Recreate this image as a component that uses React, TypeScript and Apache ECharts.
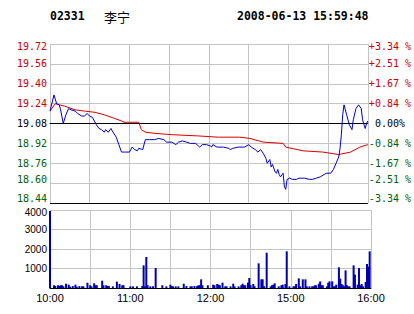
import React, { useEffect, useRef } from "react";
import * as echarts from "echarts";

const stockCode = "02331";
const stockName = "李宁";
const stamp = "2008-06-13 15:59:48";
const prevClose = 19.08;

const priceMinutes = [0, 3, 5, 7, 8, 10, 12, 14, 16, 19, 21, 24, 26, 28, 30, 32, 35, 37, 39, 41, 42, 44, 46, 47, 50, 52, 54, 57, 60, 62, 64, 66, 67, 70, 72, 75, 79, 82, 86, 88, 92, 95, 97, 100, 103, 106, 110, 112, 113, 115, 118, 121, 122, 123, 126, 131, 135, 136, 138, 142, 145, 147, 150, 152, 155, 157, 159, 161, 163, 164, 166, 167, 168, 170, 171, 172, 173, 174, 176, 177, 178, 179, 181, 183, 186, 188, 192, 196, 198, 201, 204, 207, 209, 212, 214, 216, 218, 219, 220, 221, 222, 224, 226, 228, 229, 231, 233, 235, 236, 238, 239, 240];
const prices = [19.18, 19.31, 19.24, 19.23, 19.19, 19.08, 19.15, 19.2, 19.19, 19.18, 19.16, 19.14, 19.14, 19.16, 19.14, 19.13, 19.07, 19.04, 19.03, 19.01, 19.03, 19.01, 19.04, 19.02, 18.97, 18.91, 18.85, 18.85, 18.85, 18.89, 18.87, 18.86, 18.88, 18.87, 18.95, 18.95, 18.95, 18.96, 18.95, 18.93, 18.93, 18.91, 18.93, 18.94, 18.93, 18.92, 18.92, 18.9, 18.89, 18.91, 18.91, 18.9, 18.89, 18.91, 18.89, 18.89, 18.88, 18.87, 18.88, 18.89, 18.89, 18.89, 18.91, 18.89, 18.87, 18.85, 18.87, 18.84, 18.8, 18.76, 18.79, 18.73, 18.75, 18.69, 18.68, 18.71, 18.67, 18.65, 18.68, 18.57, 18.55, 18.63, 18.64, 18.63, 18.63, 18.64, 18.64, 18.63, 18.63, 18.64, 18.65, 18.67, 18.68, 18.68, 18.71, 18.76, 18.81, 18.88, 18.99, 19.15, 19.23, 19.15, 19.07, 19.03, 19.11, 19.2, 19.23, 19.2, 19.11, 19.04, 19.08, 19.1];

const avgMinutes = [0, 4, 7, 11, 19, 26, 34, 41, 49, 54, 56, 67, 69, 72, 80, 92, 112, 127, 143, 151, 161, 176, 178, 191, 206, 218, 227, 234, 240];
const avgPrices = [19.18, 19.24, 19.23, 19.22, 19.19, 19.18, 19.17, 19.15, 19.12, 19.1, 19.09, 19.09, 19.03, 19.01, 19.0, 18.99, 18.98, 18.97, 18.97, 18.96, 18.93, 18.92, 18.89, 18.86, 18.85, 18.83, 18.85, 18.89, 18.91];

const volMinutes = [0, 3, 4, 6, 7, 8, 9, 10, 12, 14, 15, 17, 19, 20, 22, 24, 25, 28, 30, 31, 33, 34, 35, 39, 40, 42, 43, 44, 47, 50, 52, 54, 55, 60, 62, 65, 69, 70, 71, 72, 73, 75, 77, 79, 84, 87, 90, 91, 92, 94, 96, 100, 102, 105, 106, 108, 110, 111, 112, 113, 114, 118, 122, 123, 125, 126, 127, 129, 131, 132, 135, 137, 138, 141, 143, 144, 145, 146, 148, 149, 150, 152, 153, 156, 158, 159, 160, 162, 165, 166, 167, 168, 171, 173, 174, 176, 177, 179, 182, 183, 184, 186, 187, 189, 191, 192, 194, 196, 197, 198, 199, 201, 202, 203, 204, 207, 208, 209, 211, 212, 213, 214, 216, 217, 218, 219, 220, 221, 222, 223, 224, 227, 228, 230, 231, 232, 233, 234, 236, 237, 238, 239];
const volValues = [3950, 140, 100, 140, 100, 140, 140, 85, 220, 170, 70, 100, 170, 70, 100, 85, 85, 270, 140, 85, 240, 140, 140, 375, 140, 140, 100, 100, 85, 325, 205, 140, 140, 85, 85, 85, 100, 1160, 85, 1590, 140, 85, 85, 1025, 140, 85, 170, 100, 85, 85, 85, 220, 100, 85, 85, 100, 100, 140, 140, 445, 140, 140, 170, 140, 205, 170, 140, 275, 85, 85, 85, 220, 85, 85, 140, 220, 140, 140, 275, 515, 140, 205, 85, 1265, 445, 445, 85, 1810, 85, 140, 170, 240, 85, 140, 170, 205, 1880, 85, 85, 85, 205, 495, 85, 445, 445, 85, 85, 85, 85, 140, 140, 220, 340, 140, 140, 85, 275, 340, 340, 85, 85, 170, 1060, 480, 205, 140, 85, 905, 140, 85, 85, 1160, 685, 170, 1025, 140, 205, 85, 310, 1230, 1095, 1880];

const priceTickLabels = ["18.44", "18.60", "18.76", "18.92", "19.08", "19.24", "19.40", "19.56", "19.72"];
const pctTickLabels = ["-3.34 %", "-2.51 %", "-1.67 %", "-0.84 %", "\u00a00.00%", "+0.84 %", "+1.67 %", "+2.51 %", "+3.34 %"];
const volTickValues = [1000, 2000, 3000, 4000];
const volTickLabels = ["1000", "2000", "3000", "4000"];
const timeTickMinutes = [0, 60, 120, 180, 240];
const timeTickLabels = ["10:00", "11:00", "12:00", "15:00", "16:00"];

const RED_TXT = "#cc0000";
const GREEN_TXT = "#00600a";
const GRID = "#c4c4c4";

const toCents = (p: number) => Math.round((p - prevClose) * 100);
const tickIdx = (v: any) => Math.round(Number(v) / 16) + 4;
const signColor = (v: any) => {
  const n = Math.round(Number(v));
  return n > 0 ? RED_TXT : n < 0 ? GREEN_TXT : "#000000";
};
// edge labels nudged inward like the reference
const edgeWrap = (idx: number, text: string) => {
  if (idx === 0) return `{lo|${text}}`;
  if (idx === 8) return `{hi|${text}}`;
  if (idx === 1) return `{lo2|${text}}`;
  return text;
};
const priceRich = {
  lo: { color: GREEN_TXT, padding: [0, 0, 10, 0], fontSize: 10, fontFamily: "DejaVu Sans Mono" },
  lo2: { color: GREEN_TXT, padding: [0, 0, 7, 0], fontSize: 10, fontFamily: "DejaVu Sans Mono" },
  hi: { color: RED_TXT, padding: [4, 0, 0, 0], fontSize: 10, fontFamily: "DejaVu Sans Mono" },
};

export default function App() {
  const ref = useRef<HTMLDivElement>(null);
  useEffect(() => {
    if (!ref.current) return;
    const chart = echarts.init(ref.current, undefined, { renderer: "svg" });
    const priceData = priceMinutes.map((m, i) => [m, toCents(prices[i])]);
    const avgData = avgMinutes.map((m, i) => [m, toCents(avgPrices[i])]);
    const volData = volMinutes.map((m, i) => [m, volValues[i]]);
    const option: any = {
      animation: false,
      backgroundColor: "#ffffff",
      grid: [
        { left: 50, top: 44, width: 321, height: 159 },
        { left: 50, top: 210, width: 321, height: 78 },
      ],
      xAxis: [
        {
          type: "value", gridIndex: 0, min: 0, max: 240, interval: 30,
          axisLine: { show: true, lineStyle: { color: "#000", width: 1 } },
          axisTick: { show: false }, axisLabel: { show: false },
          splitLine: { show: true, lineStyle: { color: GRID, width: 1 } },
        },
        {
          type: "value", gridIndex: 1, min: 0, max: 240, interval: 30,
          axisLine: { show: true, lineStyle: { color: "#000", width: 1 } },
          axisTick: { show: false },
          axisLabel: {
            show: true, margin: 4, fontSize: 11, fontFamily: "Liberation Sans", color: "#000",
            formatter: (v: number) => {
              const i = timeTickMinutes.indexOf(Math.round(v));
              return i >= 0 ? timeTickLabels[i] : "";
            },
          },
          splitLine: { show: true, lineStyle: { color: GRID, width: 1 } },
        },
      ],
      yAxis: [
        {
          type: "value", gridIndex: 0, position: "left", min: -64, max: 64, interval: 16,
          axisLine: { show: false }, axisTick: { show: false },
          axisLabel: {
            margin: 3, fontSize: 10, fontFamily: "DejaVu Sans Mono",
            formatter: (v: number) => {
              const i = tickIdx(v);
              return edgeWrap(i, priceTickLabels[i] ?? "");
            },
            color: (v: any) => signColor(v),
            rich: priceRich,
          },
          splitLine: {
            show: true,
            lineStyle: { color: ["#000", GRID, GRID, GRID, "#000", GRID, GRID, GRID, GRID], width: 1 },
          },
        },
        {
          type: "value", gridIndex: 0, position: "right", min: -64, max: 64, interval: 16,
          axisLine: { show: false }, axisTick: { show: false },
          axisLabel: {
            margin: 1, fontSize: 10, fontFamily: "DejaVu Sans Mono",
            formatter: (v: number) => {
              const i = tickIdx(v);
              return edgeWrap(i, pctTickLabels[i] ?? "");
            },
            color: (v: any) => signColor(v),
            rich: priceRich,
          },
          splitLine: { show: false },
        },
        {
          type: "value", gridIndex: 1, min: 0, max: 4000, interval: 1000,
          axisLine: { show: false }, axisTick: { show: false },
          axisLabel: {
            margin: 3, fontSize: 10, fontFamily: "Liberation Sans", color: "#000",
            formatter: (v: number) => {
              const i = volTickValues.indexOf(Math.round(v));
              if (i < 0) return "";
              return i === volTickValues.length - 1 ? `{top|${volTickLabels[i]}}` : volTickLabels[i];
            },
            rich: { top: { padding: [5, 0, 0, 0], fontSize: 10, fontFamily: "Liberation Sans", color: "#000" } },
          },
          splitLine: { show: true, lineStyle: { color: ["#000", GRID, GRID, GRID, GRID], width: 1 } },
        },
      ],
      series: [
        {
          type: "line", xAxisIndex: 0, yAxisIndex: 0, data: avgData, symbol: "none",
          lineStyle: { color: "#dd0000", width: 1 }, z: 3,
        },
        {
          type: "line", xAxisIndex: 0, yAxisIndex: 0, data: priceData, symbol: "none",
          lineStyle: { color: "#0000c8", width: 1 }, z: 4,
        },
        {
          type: "bar", xAxisIndex: 1, yAxisIndex: 2, data: volData, barWidth: 2,
          itemStyle: { color: "#0000b0" },
        },
      ],
      graphic: [
        { type: "text", x: 50, y: 16, style: { text: stockCode, font: "bold 11.5px 'DejaVu Sans Mono'", fill: "#000", textVerticalAlign: "middle" } },
        { type: "text", x: 104, y: 16, style: { text: stockName, font: "13px 'Noto Sans CJK SC'", fill: "#000", textVerticalAlign: "middle" } },
        { type: "text", x: 237, y: 16, style: { text: stamp, font: "bold 11.5px 'DejaVu Sans Mono'", fill: "#000", textVerticalAlign: "middle" } },
      ],
    };
    chart.setOption(option);
    return () => chart.dispose();
  }, []);
  return (
    <div
      ref={ref}
      style={{ position: "absolute", left: 0, top: 0, width: 414, height: 314, background: "#fff" }}
    />
  );
}
